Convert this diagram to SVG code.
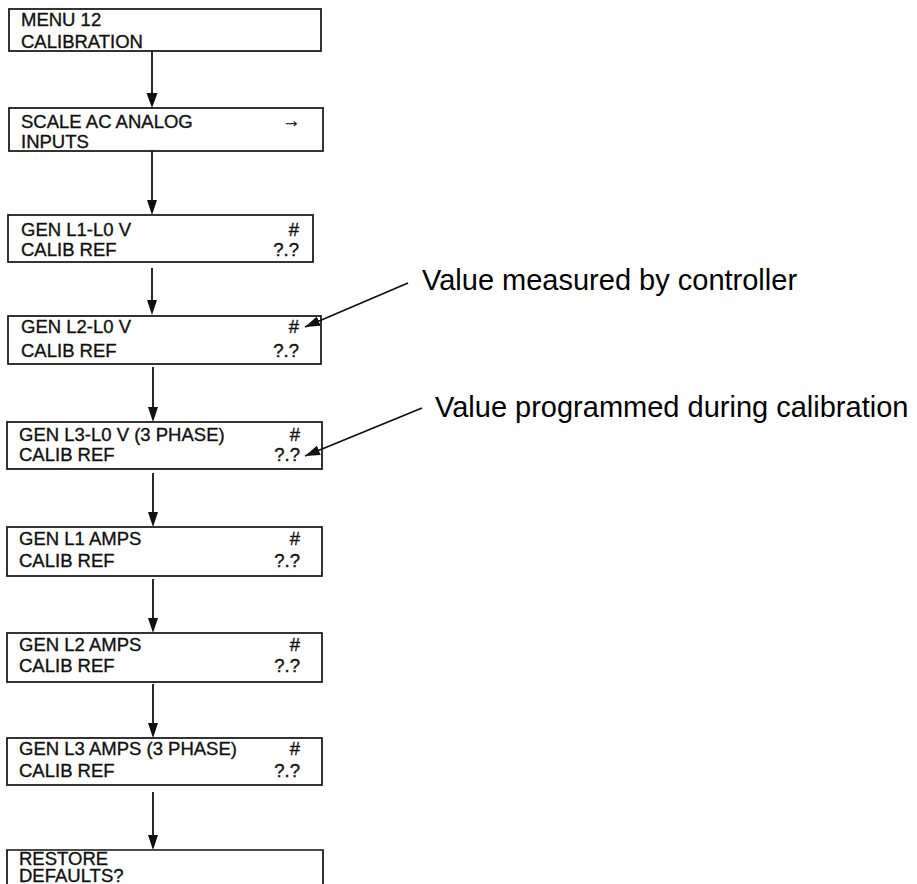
<svg xmlns="http://www.w3.org/2000/svg" width="917" height="884" viewBox="0 0 917 884">
<style>
  .box { fill: none; stroke: #111; stroke-width: 1.7; }
  .t { font-family: "Liberation Sans", Arial, sans-serif; font-size: 18.5px; fill: #111; stroke: #111; stroke-width: 0.35; }
  .r { text-anchor: end; }
  .ann { font-family: "Liberation Sans", Arial, sans-serif; font-size: 29px; fill: #000; }
  .conn { stroke: #111; stroke-width: 1.8; fill: none; }
  .head { fill: #111; }
  .lead { stroke: #111; stroke-width: 1.8; fill: none; }
</style>
<defs>
  <marker id="ah2" markerUnits="userSpaceOnUse" markerWidth="15" markerHeight="10" refX="15" refY="5" orient="auto" viewBox="0 0 15 10">
    <path d="M0,0 L15,5 L0,10 Z" fill="#111"/>
  </marker>
</defs>

<g id="connectors">
  <line class="conn" x1="152" y1="51" x2="152" y2="95" stroke-width="2.4"/>
  <path class="head" d="M146.5,93 L157.5,93 L152,108 Z"/>
  <line class="conn" x1="152" y1="151" x2="152" y2="202"/>
  <path class="head" d="M147,200 L157,200 L152,215 Z"/>
  <line class="conn" x1="152" y1="268" x2="152" y2="302"/>
  <path class="head" d="M147,300 L157,300 L152,315 Z"/>
  <line class="conn" x1="153" y1="367" x2="153" y2="409"/>
  <path class="head" d="M148,407 L158,407 L153,422 Z"/>
  <line class="conn" x1="153" y1="473" x2="153" y2="514"/>
  <path class="head" d="M148,512 L158,512 L153,527 Z"/>
  <line class="conn" x1="153" y1="579" x2="153" y2="620"/>
  <path class="head" d="M148,618 L158,618 L153,633 Z"/>
  <line class="conn" x1="153" y1="684" x2="153" y2="725"/>
  <path class="head" d="M148,723 L158,723 L153,738 Z"/>
  <line class="conn" x1="153" y1="792" x2="153" y2="837"/>
  <path class="head" d="M148,835 L158,835 L153,850 Z"/>
</g>

<g id="n1">
  <rect class="box" x="9" y="9" width="312" height="42"/>
  <text class="t" x="21" y="26">MENU 12</text>
  <text class="t" x="21" y="48">CALIBRATION</text>
</g>
<g id="n2">
  <rect class="box" x="9" y="108" width="314" height="43"/>
  <text class="t" x="21" y="128">SCALE AC ANALOG</text>
  <text class="t" x="21" y="148">INPUTS</text>
  <text class="t" x="282" y="127" font-weight="bold">→</text>
</g>
<g id="n3">
  <rect class="box" x="8" y="215" width="305" height="47"/>
  <text class="t" x="21" y="236">GEN L1-L0 V</text>
  <text class="t" x="21" y="256">CALIB REF</text>
  <text class="t r" x="299" y="236">#</text>
  <text class="t r" x="299" y="256">?.?</text>
</g>
<g id="n4">
  <rect class="box" x="8" y="316" width="313" height="48"/>
  <text class="t" x="21" y="333">GEN L2-L0 V</text>
  <text class="t" x="21" y="357">CALIB REF</text>
  <text class="t r" x="299" y="333">#</text>
  <text class="t r" x="299" y="357">?.?</text>
</g>
<g id="n5">
  <rect class="box" x="7" y="422" width="315" height="47"/>
  <text class="t" x="19" y="441">GEN L3-L0 V (3 PHASE)</text>
  <text class="t" x="19" y="461">CALIB REF</text>
  <text class="t r" x="300" y="441">#</text>
  <text class="t r" x="300" y="461">?.?</text>
</g>
<g id="n6">
  <rect class="box" x="7" y="527" width="315" height="49"/>
  <text class="t" x="19" y="545">GEN L1 AMPS</text>
  <text class="t" x="19" y="567">CALIB REF</text>
  <text class="t r" x="300" y="545">#</text>
  <text class="t r" x="300" y="567">?.?</text>
</g>
<g id="n7">
  <rect class="box" x="7" y="633" width="315" height="49"/>
  <text class="t" x="19" y="651">GEN L2 AMPS</text>
  <text class="t" x="19" y="672">CALIB REF</text>
  <text class="t r" x="300" y="651">#</text>
  <text class="t r" x="300" y="672">?.?</text>
</g>
<g id="n8">
  <rect class="box" x="7" y="738" width="315" height="47"/>
  <text class="t" x="19" y="755">GEN L3 AMPS (3 PHASE)</text>
  <text class="t" x="19" y="777">CALIB REF</text>
  <text class="t r" x="300" y="755">#</text>
  <text class="t r" x="300" y="777">?.?</text>
</g>
<g id="n9">
  <path class="box" d="M7,890 L7,850 L323,850 L323,890"/>
  <text class="t" x="19" y="865">RESTORE</text>
  <text class="t" x="19" y="882">DEFAULTS?</text>
</g>

<g id="annotations">
  <line class="lead" x1="408" y1="283" x2="305" y2="327" marker-end="url(#ah2)"/>
  <line class="lead" x1="422" y1="408" x2="305" y2="456" marker-end="url(#ah2)"/>
  <text class="ann" x="422" y="290">Value measured by controller</text>
  <text class="ann" x="435" y="417">Value programmed during calibration</text>
</g>
</svg>
